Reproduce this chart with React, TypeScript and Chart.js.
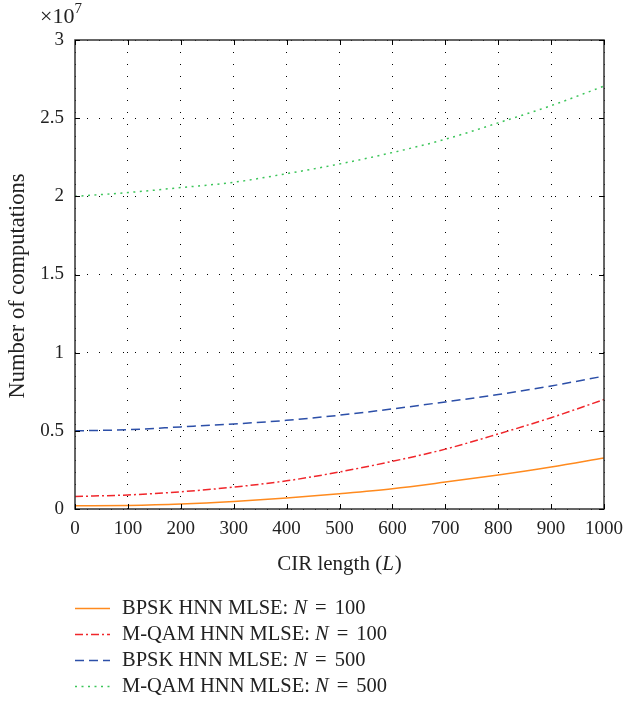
import React, { useEffect, useRef } from "react";
import { Chart, registerables } from "chart.js";

Chart.register(...registerables);

const cirLength = [0, 100, 200, 300, 400, 500, 600, 700, 800, 900, 1000];
// values in units of 10^7 computations
const bpsk100 = [0.02, 0.023, 0.032, 0.048, 0.07, 0.098, 0.13, 0.172, 0.217, 0.268, 0.326];
const mqam100 = [0.08, 0.09, 0.11, 0.14, 0.18, 0.237, 0.305, 0.383, 0.48, 0.584, 0.70];
const bpsk500 = [0.5, 0.507, 0.525, 0.544, 0.567, 0.6, 0.64, 0.685, 0.732, 0.787, 0.85];
const mqam500 = [2.0, 2.024, 2.056, 2.09, 2.145, 2.207, 2.28, 2.365, 2.47, 2.58, 2.705];

const seriesLabels = ["BPSK HNN MLSE: ", "M-QAM HNN MLSE: ", "BPSK HNN MLSE: ", "M-QAM HNN MLSE: "];
const seriesN = ["100", "100", "500", "500"];
const seriesColors = ["#ff8a1e", "#f0262b", "#2c4fa8", "#3cc55a"];
const seriesDash = [[], [8, 3, 2, 3], [9, 5], [2, 4.5]];
const yTicks = [0, 0.5, 1, 1.5, 2, 2.5, 3];
const xTicks = [0, 100, 200, 300, 400, 500, 600, 700, 800, 900, 1000];

const SERIF = "'Liberation Serif', 'DejaVu Serif', serif";

export default function App() {
  const ref = useRef<HTMLCanvasElement | null>(null);

  useEffect(() => {
    document.body.style.margin = "0";
    const canvas = ref.current;
    if (!canvas) return;
    const all = [bpsk100, mqam100, bpsk500, mqam500];

    const decor = {
      id: "decor",
      afterDraw(chart: any) {
        const ctx = chart.ctx as CanvasRenderingContext2D;
        const a = chart.chartArea;
        const xs = chart.scales.x;
        const ys = chart.scales.y;
        ctx.save();
        // frame
        ctx.strokeStyle = "#333";
        ctx.lineWidth = 1.5;
        ctx.setLineDash([]);
        ctx.strokeRect(a.left, a.top, a.right - a.left, a.bottom - a.top);
        // inside ticks
        ctx.strokeStyle = "#000";
        ctx.lineWidth = 1;
        ctx.beginPath();
        for (const v of xTicks) {
          const px = Math.round(xs.getPixelForValue(v)) + 0.5;
          ctx.moveTo(px, a.bottom);
          ctx.lineTo(px, a.bottom - 5);
          ctx.moveTo(px, a.top);
          ctx.lineTo(px, a.top + 5);
        }
        for (const v of yTicks) {
          const py = Math.round(ys.getPixelForValue(v)) + 0.5;
          ctx.moveTo(a.left, py);
          ctx.lineTo(a.left + 5, py);
          ctx.moveTo(a.right, py);
          ctx.lineTo(a.right - 5, py);
        }
        ctx.stroke();

        ctx.fillStyle = "#222";
        // exponent
        ctx.font = `22px ${SERIF}`;
        ctx.textAlign = "left";
        ctx.textBaseline = "alphabetic";
        ctx.fillText("\u00d710", 40, 23);
        const w10 = ctx.measureText("\u00d710").width;
        ctx.font = `15px ${SERIF}`;
        ctx.fillText("7", 40 + w10, 13);

        // x title
        const XF = 21;
        ctx.font = `${XF}px ${SERIF}`;
        const p1 = "CIR length (";
        const p2 = "L";
        const p3 = ")";
        const w1 = ctx.measureText(p1).width;
        ctx.font = `italic ${XF}px ${SERIF}`;
        const w2 = ctx.measureText(p2).width;
        ctx.font = `${XF}px ${SERIF}`;
        const w3 = ctx.measureText(p3).width;
        const cx = (a.left + a.right) / 2;
        const x0 = cx - (w1 + w2 + w3 + 1) / 2;
        ctx.fillText(p1, x0, 570);
        ctx.font = `italic ${XF}px ${SERIF}`;
        ctx.fillText(p2, x0 + w1, 570);
        ctx.font = `${XF}px ${SERIF}`;
        ctx.fillText(p3, x0 + w1 + w2 + 1, 570);

        // y title
        ctx.save();
        ctx.translate(18, 286);
        ctx.rotate(-Math.PI / 2);
        ctx.textAlign = "center";
        ctx.textBaseline = "middle";
        ctx.font = `22.5px ${SERIF}`;
        ctx.fillText("Number of computations", 0, 0);
        ctx.restore();

        // legend
        const LF = 20.5;
        const rows = [609, 635, 661, 687];
        for (let i = 0; i < 4; i++) {
          const y = rows[i];
          ctx.strokeStyle = seriesColors[i];
          ctx.lineWidth = 1.5;
          ctx.setLineDash(seriesDash[i]);
          ctx.beginPath();
          ctx.moveTo(75, y - 0.5);
          ctx.lineTo(110, y - 0.5);
          ctx.stroke();
          ctx.setLineDash([]);
          ctx.fillStyle = "#222";
          ctx.textAlign = "left";
          ctx.textBaseline = "middle";
          let tx = 122;
          ctx.font = `${LF}px ${SERIF}`;
          ctx.fillText(seriesLabels[i], tx, y);
          tx += ctx.measureText(seriesLabels[i]).width;
          ctx.font = `italic ${LF}px ${SERIF}`;
          ctx.fillText("N", tx, y);
          tx += ctx.measureText("N").width + 8;
          ctx.font = `${LF}px ${SERIF}`;
          ctx.fillText("=", tx, y);
          tx += ctx.measureText("=").width + 8;
          ctx.fillText(seriesN[i], tx, y);
        }
        ctx.restore();
      },
    };

    const chart = new Chart(canvas, {
      type: "line",
      data: {
        datasets: all.map((vals, i) => ({
          label: seriesLabels[i] + "N = " + seriesN[i],
          data: cirLength.map((x, j) => ({ x, y: vals[j] })),
          borderColor: seriesColors[i],
          borderWidth: 1.5,
          borderDash: seriesDash[i],
          pointRadius: 0,
          fill: false,
          tension: 0.4,
          cubicInterpolationMode: "monotone" as const,
        })),
      },
      options: {
        animation: false,
        responsive: false,
        maintainAspectRatio: false,
        devicePixelRatio: 1,
        layout: { padding: { top: 40, right: 21, left: 0, bottom: 0 } },
        plugins: { legend: { display: false }, tooltip: { enabled: false } },
        scales: {
          x: {
            type: "linear",
            min: 0,
            max: 1000,
            afterFit: (s: any) => {
              s.height = 193;
              s.paddingLeft = 0;
              s.paddingRight = 0;
            },
            afterBuildTicks: (s: any) => {
              s.ticks = xTicks.map((v) => ({ value: v }));
            },
            ticks: {
              font: { family: SERIF, size: 19 },
              color: "#222",
              padding: 9,
              maxRotation: 0,
              autoSkip: false,
              callback: (v: any) => String(v),
            },
            grid: { color: "#000", lineWidth: 1, drawTicks: false, tickLength: 0 },
            border: { display: false, dash: [1, 11] },
          },
          y: {
            type: "linear",
            min: 0,
            max: 3,
            afterFit: (s: any) => {
              s.width = 75;
              s.paddingTop = 0;
              s.paddingBottom = 0;
            },
            afterBuildTicks: (s: any) => {
              s.ticks = yTicks.map((v) => ({ value: v }));
            },
            ticks: {
              font: { family: SERIF, size: 19 },
              color: "#222",
              padding: 11,
              callback: (v: any) => String(v),
            },
            grid: { color: "#000", lineWidth: 1, drawTicks: false, tickLength: 0 },
            border: { display: false, dash: [1, 11] },
          },
        },
      },
      plugins: [decor],
    });
    return () => chart.destroy();
  }, []);

  return (
    <div style={{ width: 625, height: 702, background: "#fff" }}>
      <canvas ref={ref} width={625} height={702} style={{ display: "block" }} />
    </div>
  );
}
